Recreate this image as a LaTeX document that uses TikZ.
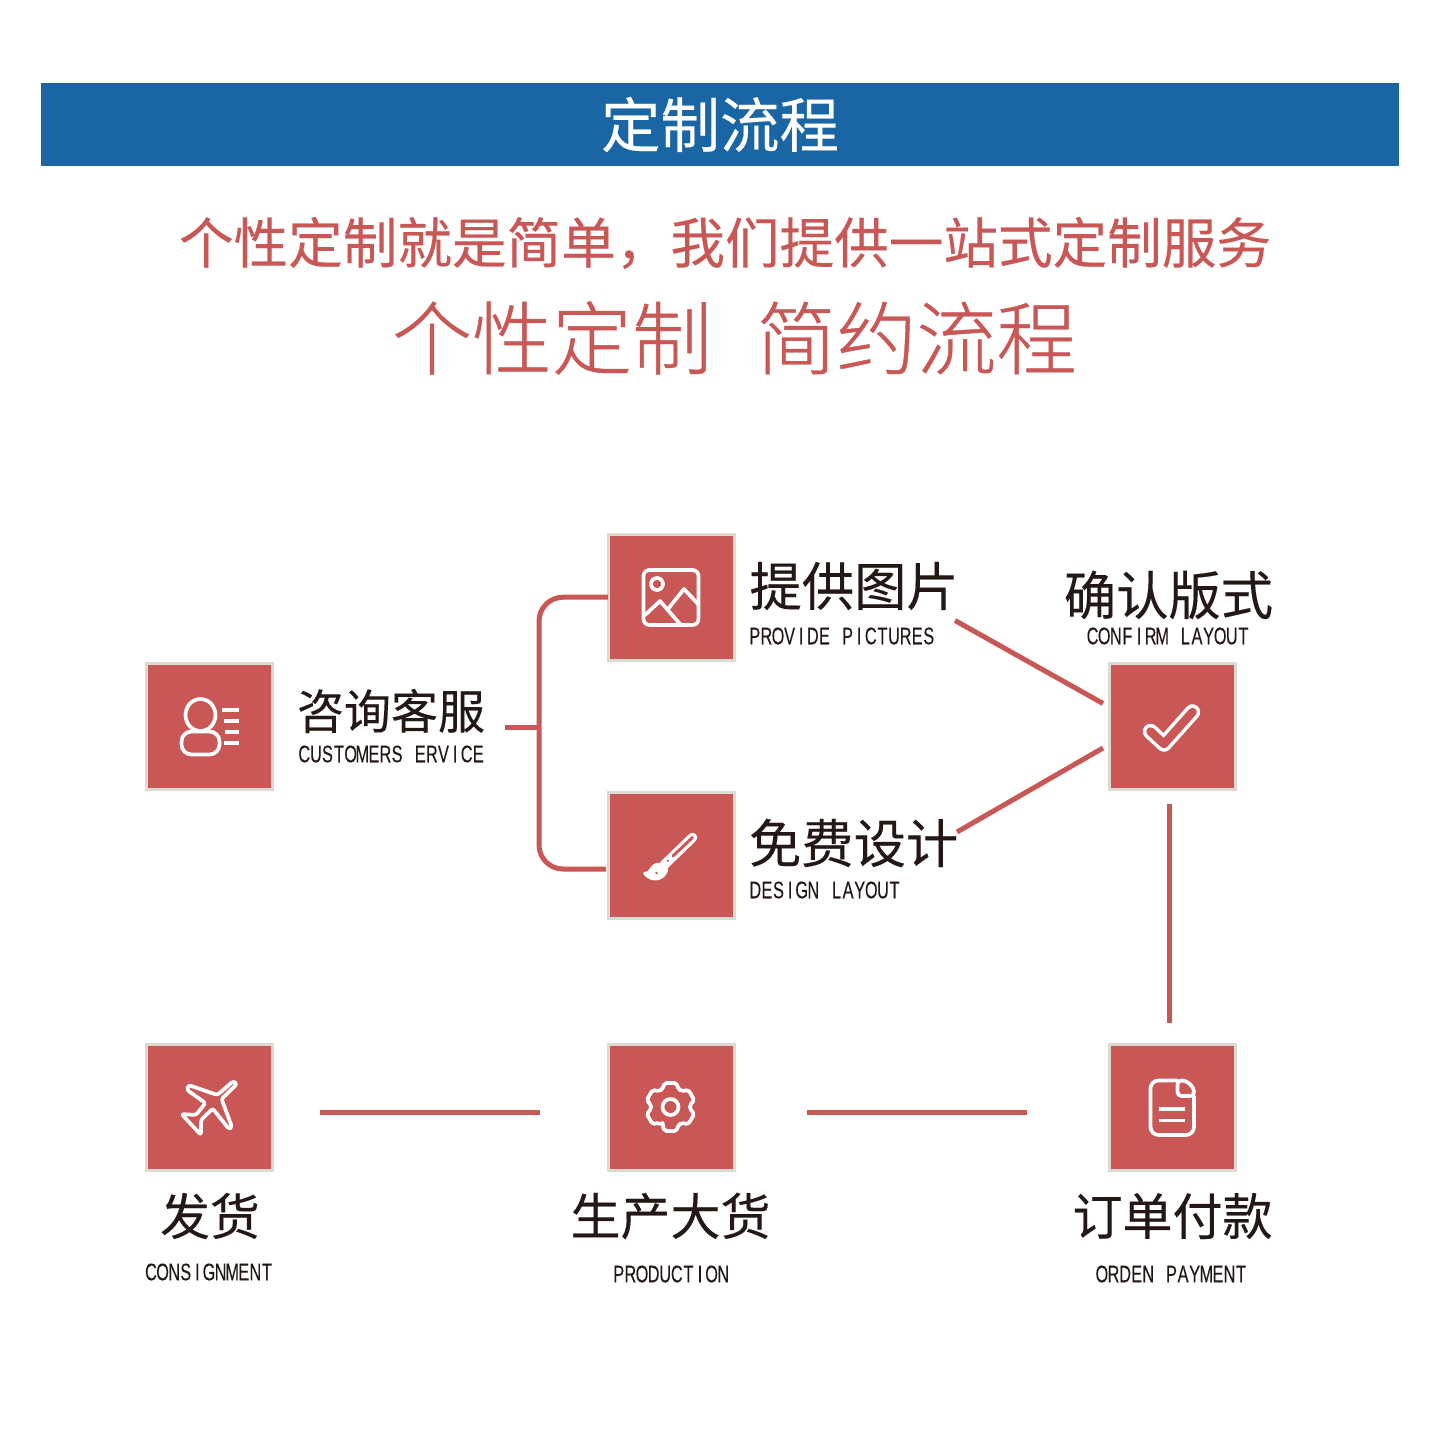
\documentclass[tikz,border=0pt]{standalone}
\usepackage{fontspec}
\setmainfont{Liberation Sans}
\newfontfamily\cjk[FakeBold=0.25]{Noto Sans CJK SC}
\newfontfamily\cjkthin[FakeBold=0.5]{Noto Sans CJK SC Light}
\newfontfamily\narrow[FakeStretch=0.68,FakeBold=0.2]{Liberation Sans}
\definecolor{brick}{HTML}{C85755}
\definecolor{edgegray}{HTML}{DDD9D3}
\definecolor{bannerblue}{HTML}{1A65A3}
\definecolor{ink}{HTML}{231815}
\def\cl#1{\ifx#1\relax\else\makebox[11.6pt][c]{#1}\expandafter\cl\fi}
\newcommand{\mono}[1]{{\narrow\fontsize{24}{24}\selectfont\cl#1\relax}}
\newcommand{\zh}[2]{{\cjk\fontsize{#1}{#1}\selectfont #2}}
\newcommand{\zhthin}[2]{{\cjkthin\fontsize{#1}{#1}\selectfont #2}}
\tikzset{
  iconbox/.style={draw=edgegray,line width=3pt,fill=brick,minimum size=126pt,inner sep=0pt,outer sep=0pt},
  link/.style={draw=brick,line width=5pt},
  icon/.style={draw=white,line width=3.7pt,line join=round,line cap=round},
  label/.style={inner sep=0pt,outer sep=0pt,text=ink},
}
\begin{document}
\begin{tikzpicture}[x=1pt,y=-1pt]
\useasboundingbox (0,0) rectangle (1440,1440);
\fill[white] (0,0) rectangle (1440,1440);
% banner
\node[fill=bannerblue,minimum width=1358pt,minimum height=83pt,inner sep=0pt,text=white] (banner) at (720,124.5) {\zh{59.5}{定制流程}};
\node[label,text=brick] (lead) at (725,243) {\zh{54.6}{个性定制就是简单，我们提供一站式定制服务}};
\node[label,text=brick] (slogana) at (552,338) {\zhthin{80}{个性定制}};
\node[label,text=brick] (sloganb) at (916.5,338) {\zhthin{80}{简约流程}};
% boxes
\node[iconbox] (service) at (209.2,726.7) {};
\node[iconbox] (picture) at (671,597.2) {};
\node[iconbox] (design) at (671,855.7) {};
\node[iconbox] (confirm) at (1172,726.7) {};
\node[iconbox] (ship) at (209.2,1107.2) {};
\node[iconbox] (make) at (671,1107.2) {};
\node[iconbox] (pay) at (1172,1107.2) {};
% labels
\node[label,anchor=west] (t1) at (297,711) {\zh{47}{咨询客服}};
\node[label,anchor=west] (s1) at (298.5,754) {\mono{CUSTOMERS~ERVICE}};
\node[label,anchor=west] (t2) at (749.5,586) {\zh{52.3}{提供图片}};
\node[label,anchor=west] (s2) at (749,636) {\mono{PROVIDE~PICTURES}};
\node[label,anchor=west] (t3) at (749,843) {\zh{52.3}{免费设计}};
\node[label,anchor=west] (s3) at (749.5,890) {\mono{DESIGN~LAYOUT}};
\node[label] (t4) at (1168.5,595) {\zh{52.3}{确认版式}};
\node[label] (s4) at (1168,636) {\mono{CONFIRM~LAYOUT}};
\node[label] (t5) at (210,1216) {\zh{49.8}{发货}};
\node[label] (s5) at (209,1272) {\mono{CONSIGNMENT}};
\node[label] (t6) at (670.5,1216) {\zh{50}{生产大货}};
\node[label] (s6) at (671,1274) {\mono{PRODUCTION}};
\node[label] (t7) at (1172.5,1216) {\zh{50}{订单付款}};
\node[label] (s7) at (1171.5,1274) {\mono{ORDEN~PAYMENT}};
% connector ends
\coordinate (trunkin) at (505,727);
\coordinate (trunkmid) at (539,727);
\coordinate (lowin) at (606,869);
\coordinate (d1a) at (955,620.5);
\coordinate (d1b) at (1103,703.5);
\coordinate (d2a) at (957,832);
\coordinate (d2b) at (1103,748);
\coordinate (va) at (1169,804);
\coordinate (vb) at (1169,1023);
\coordinate (h1a) at (807,1112);
\coordinate (h1b) at (1027,1112);
\coordinate (h2a) at (320,1112);
\coordinate (h2b) at (540,1112);
% connectors
\draw[link] (trunkin) -- (trunkmid);
\draw[link,rounded corners=24pt] (picture.west) -- (539,597.2) -- (539,869) -- (lowin);
\draw[link] (d1a) -- (d1b);
\draw[link] (d2a) -- (d2b);
\draw[link] (va) -- (vb);
\draw[link] (h1a) -- (h1b);
\draw[link] (h2a) -- (h2b);
% person icon
\draw[icon] (200.5,715) ellipse [x radius=15, y radius=16];
\draw[icon,rounded corners=10pt] (181.5,731.5) rectangle (219.5,754.5);
\draw[icon,line cap=butt] (222,710)--(239,710) (224,721)--(239,721) (225,732)--(239,732) (224,743)--(239,743);
% picture icon
\draw[icon,rounded corners=6pt] (643.5,570) rectangle (698.5,625);
\draw[icon] (657,584) circle [radius=6];
\draw[icon] (645,615)--(660,601)--(680,624);
\draw[icon] (668,609)--(684,589)--(698,604);
% brush icon
\draw[white,line width=9.5pt,line cap=round] (692.5,837.5)--(664,865);
\draw[brick,line width=3pt,line cap=round] (692.5,837.5)--(673,856);
\fill[brick] (667.8,860.8) circle [radius=1.3];
\draw[icon,fill=white] (645,873.5) .. controls (652,874) and (650,866) .. (658,864.5) -- (666.5,869.5) .. controls (664,878) and (654,883) .. (645,873.5) -- cycle;
\fill[brick] (656.5,873) circle [radius=1.4];
% check icon
\draw[white,line width=15.5pt,line cap=round,line join=round] (1150.5,731.5)--(1164,744)--(1192.5,712);
\draw[brick,line width=8.5pt,line cap=round,line join=round] (1150.5,731.5)--(1164,744)--(1192.5,712);
% plane icon
\draw[icon,rounded corners=2.5pt] (233.5,1081)--(217.3,1095)--(188.5,1085)--(187,1090)--(205.5,1103)--(196,1115)--(181.5,1114)--(201,1135)--(201,1120)--(212.7,1108.5)--(229,1129)--(232,1127)--(221.5,1099)--(237,1084)--cycle;
% gear icon
\begin{scope}[shift={(670.5,1107)}]
\draw[icon,rounded corners=2pt] (114:19.5) foreach \a in {90,30,-30,-90,-150,-210}{ -- (\a+24:19.5) -- (\a+14:24.8) -- (\a-14:24.8) -- (\a-24:19.5)} -- cycle;
\draw[icon] (0,0) circle [radius=8];
\end{scope}
% document icon
\draw[icon,rounded corners=8pt] (1177.5,1080.5) -- (1150.5,1080.5) -- (1150.5,1135) -- (1194,1135) -- (1194,1096);
\draw[icon,rounded corners=4pt] (1177.5,1080.5) -- (1186,1080.5) -- (1194,1088) -- (1194,1096) -- (1177.5,1096) -- cycle;
\draw[icon,line cap=butt] (1159,1109)--(1185,1109) (1159,1120.5)--(1185,1120.5);
\end{tikzpicture}
\end{document}
